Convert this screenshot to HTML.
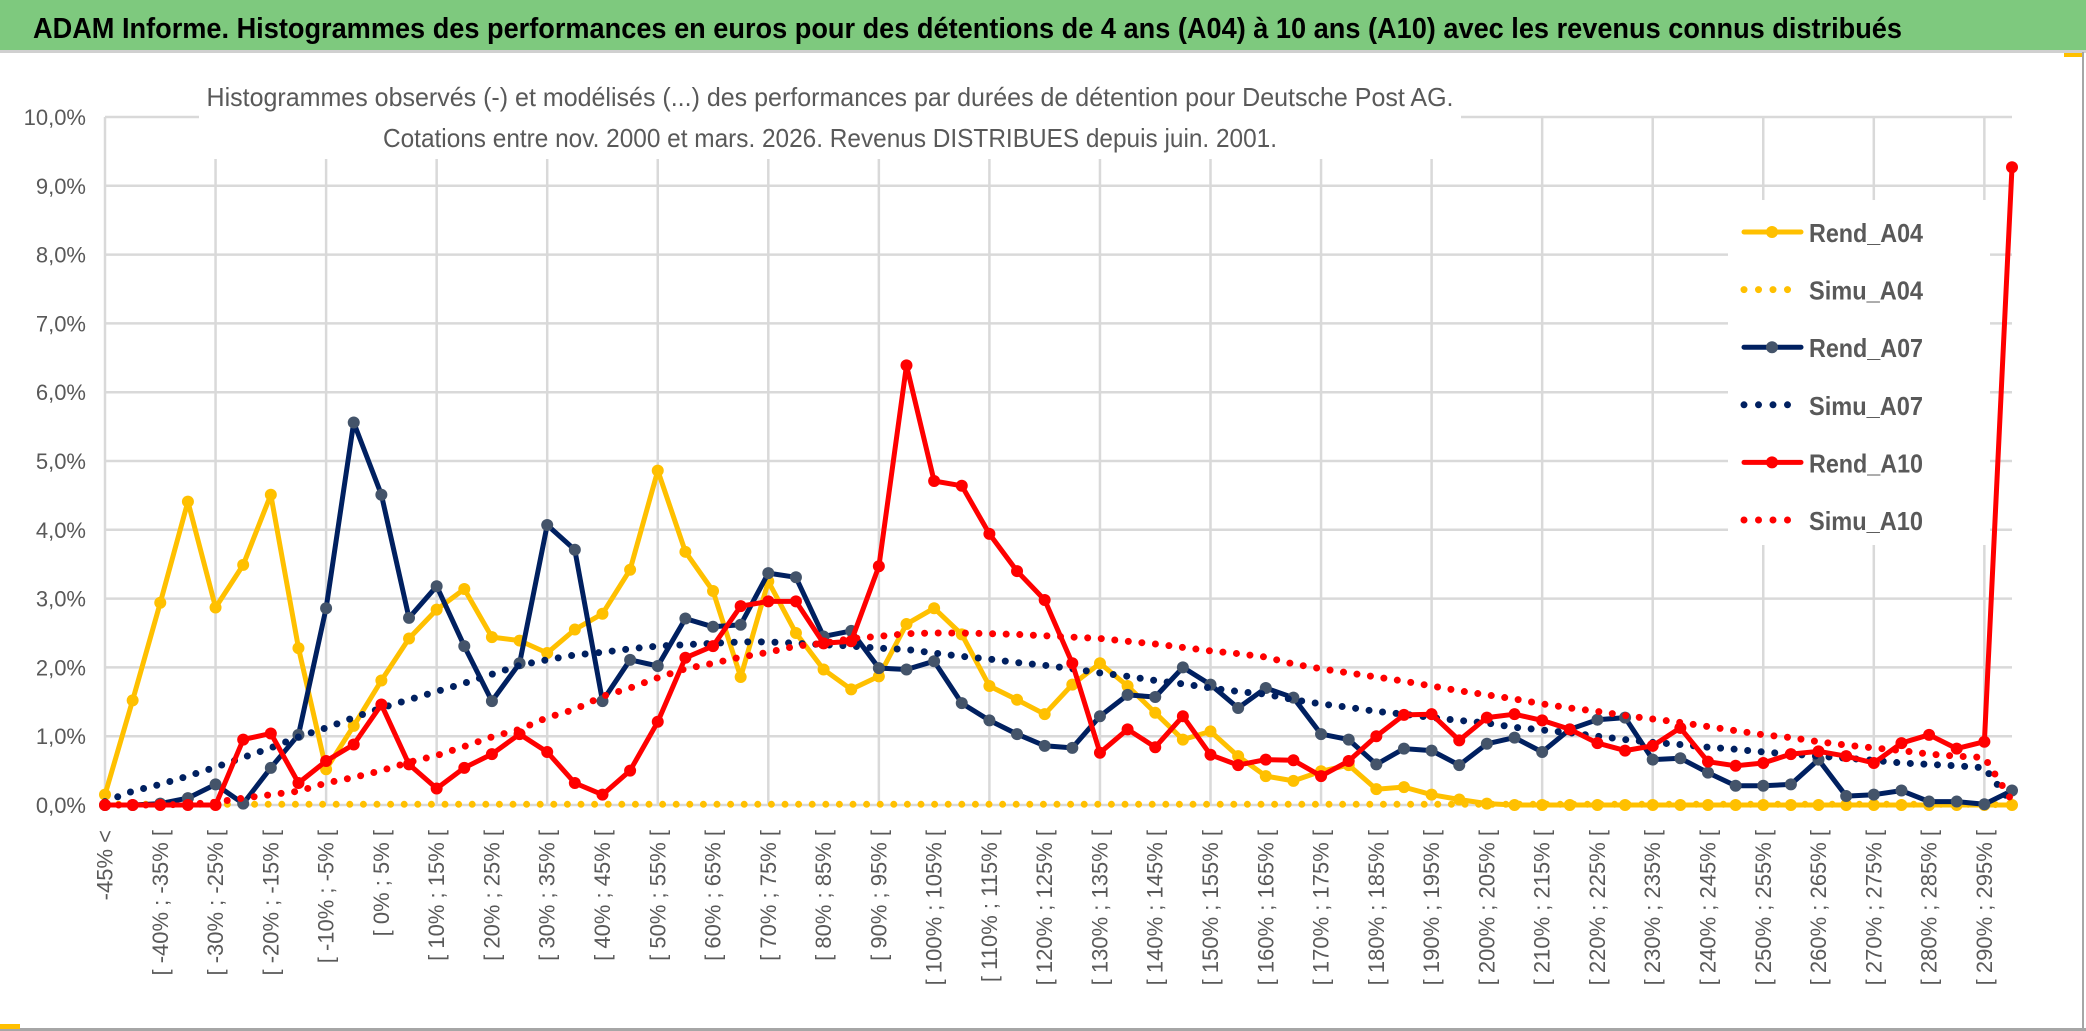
<!DOCTYPE html>
<html><head><meta charset="utf-8"><style>
html,body{margin:0;padding:0;background:#fff;}
svg{display:block;font-family:"Liberation Sans Narrow","Liberation Sans",sans-serif;}
</style></head><body>
<svg id="chart" width="2086" height="1031" viewBox="0 0 2086 1031" xmlns="http://www.w3.org/2000/svg">
<rect x="0" y="0" width="2086" height="1031" fill="#fff"/>
<rect x="0" y="0" width="2086" height="50" fill="#7ec97e"/>
<line x1="0" y1="51.5" x2="2086" y2="51.5" stroke="#d0d0d0" stroke-width="3"/>
<text x="33" y="38" font-size="29" font-weight="bold" fill="#000" textLength="1869" lengthAdjust="spacingAndGlyphs">ADAM Informe. Histogrammes des performances en euros pour des détentions de 4 ans (A04) à 10 ans (A10) avec les revenus connus distribués</text>
<rect x="2082" y="52" width="2" height="979" fill="#a6a6a6"/>
<rect x="0" y="1028" width="2086" height="3" fill="#a6a6a6"/>
<rect x="0" y="1024" width="20" height="5" fill="#ffc000"/>
<rect x="2064" y="53" width="18" height="4" fill="#ffc000"/>
<g id="grid"></g>
<rect x="199" y="60" width="1262" height="99" fill="#fff"/>
<rect x="1728" y="200" width="262" height="345" fill="#fff"/>
<text x="830" y="106" font-size="26" fill="#595959" text-anchor="middle" textLength="1247" lengthAdjust="spacingAndGlyphs">Histogrammes observés (-) et modélisés (...) des performances par durées de détention pour Deutsche Post AG.</text>
<text x="830" y="147" font-size="26" fill="#595959" text-anchor="middle" textLength="894" lengthAdjust="spacingAndGlyphs">Cotations entre nov. 2000 et mars. 2026. Revenus DISTRIBUES depuis juin. 2001.</text>
<g id="yaxis"></g>
<g id="xaxis"></g>
<g id="series"></g>
<g id="legend"></g>
</svg>
<script>
const categories = ["-45% <"];
const catLows = [-45,-40,-35,-30,-25,-20,-15,-10,-5,0,5,10,15,20,25,30,35,40,45,50,55,60,65,70,75,80,85,90,95,100,105,110,115,120,125,130,135,140,145,150,155,160,165,170,175,180,185,190,195,200,205,210,215,220,225,230,235,240,245,250,255,260,265,270,275,280,285,290,295];
const yTicks = [0,1,2,3,4,5,6,7,8,9,10];
const yTickLabels = ["0,0%","1,0%","2,0%","3,0%","4,0%","5,0%","6,0%","7,0%","8,0%","9,0%","10,0%"];
const rendA04 = [0.15,1.52,2.94,4.41,2.87,3.49,4.51,2.28,0.52,1.15,1.81,2.42,2.84,3.14,2.44,2.39,2.21,2.55,2.78,3.42,4.86,3.68,3.11,1.86,3.25,2.5,1.97,1.68,1.87,2.63,2.86,2.48,1.73,1.53,1.32,1.75,2.06,1.73,1.34,0.95,1.07,0.71,0.42,0.35,0.49,0.58,0.23,0.26,0.15,0.08,0.02,0,0,0,0,0,0,0,0,0,0,0,0,0,0,0,0,0,0,0];
const simuA04 = [0.01,0.01,0.01,0.01,0.01,0.01,0.01,0.01,0.01,0.01,0.01,0.01,0.01,0.01,0.01,0.01,0.01,0.01,0.01,0.01,0.01,0.01,0.01,0.01,0.01,0.01,0.01,0.01,0.01,0.01,0.01,0.01,0.01,0.01,0.01,0.01,0.01,0.01,0.01,0.01,0.01,0.01,0.01,0.01,0.01,0.01,0.01,0.01,0.01,0.01,0.01,0.01,0.01,0.01,0.01,0.01,0.01,0.01,0.01,0.01,0.01,0.01,0.01,0.01,0.01,0.01,0.01,0.01,0.01,0.0];
const rendA07 = [0,0,0.02,0.1,0.3,0.02,0.54,1.02,2.86,5.56,4.51,2.72,3.18,2.31,1.51,2.06,4.07,3.71,1.51,2.11,2.02,2.71,2.59,2.62,3.37,3.31,2.45,2.53,1.99,1.97,2.09,1.48,1.23,1.03,0.86,0.83,1.29,1.6,1.57,2.0,1.75,1.41,1.70,1.56,1.03,0.95,0.59,0.82,0.79,0.58,0.89,0.98,0.77,1.1,1.24,1.27,0.66,0.68,0.47,0.28,0.28,0.30,0.66,0.13,0.15,0.21,0.05,0.05,0.01,0.21];
const simuA07 = [0.05,0.2,0.3,0.42,0.55,0.69,0.83,0.99,1.12,1.27,1.41,1.53,1.65,1.77,1.9,2.03,2.11,2.18,2.22,2.27,2.31,2.33,2.35,2.37,2.37,2.35,2.33,2.31,2.28,2.26,2.21,2.16,2.12,2.07,2.03,1.98,1.92,1.87,1.81,1.76,1.70,1.65,1.61,1.53,1.47,1.42,1.36,1.32,1.27,1.23,1.19,1.13,1.09,1.05,1.0,0.95,0.91,0.88,0.84,0.81,0.77,0.74,0.71,0.68,0.65,0.61,0.59,0.57,0.54,0.02];
const rendA10 = [0,0,0,0,0,0.95,1.04,0.32,0.64,0.88,1.46,0.59,0.24,0.54,0.74,1.03,0.77,0.32,0.15,0.5,1.21,2.14,2.31,2.89,2.96,2.96,2.35,2.38,3.47,6.39,4.71,4.64,3.94,3.40,2.98,2.06,0.76,1.10,0.84,1.29,0.73,0.58,0.66,0.65,0.42,0.64,1.0,1.31,1.32,0.94,1.27,1.32,1.23,1.1,0.9,0.79,0.86,1.12,0.63,0.57,0.61,0.74,0.78,0.71,0.61,0.90,1.02,0.82,0.92,9.27];
const simuA10 = [0,0,0,0.01,0.04,0.1,0.15,0.2,0.32,0.4,0.5,0.62,0.72,0.85,0.99,1.1,1.27,1.39,1.58,1.7,1.85,1.98,2.06,2.15,2.22,2.31,2.35,2.42,2.45,2.49,2.5,2.5,2.49,2.48,2.46,2.44,2.42,2.38,2.34,2.29,2.24,2.2,2.15,2.05,1.98,1.92,1.86,1.80,1.73,1.66,1.60,1.54,1.47,1.41,1.36,1.30,1.25,1.20,1.14,1.08,1.02,0.98,0.92,0.87,0.83,0.79,0.74,0.71,0.69,0.06];
const seriesNames = ["Rend_A04","Simu_A04","Rend_A07","Simu_A07","Rend_A10","Simu_A10"];

for (let k = 0; k < catLows.length; k++) categories.push("[ " + catLows[k] + "% ; " + (catLows[k] + 5) + "% [");

const NS = "http://www.w3.org/2000/svg";
const X0 = 105, X1 = 2012, Y0 = 805, PER = 68.8;
const N = categories.length;
function xs(i){ return X0 + i * (X1 - X0) / (N - 1); }
function ys(v){ return Y0 - v * PER; }
function mk(tag, attrs, parent){ const e = document.createElementNS(NS, tag); for (const k in attrs) e.setAttribute(k, attrs[k]); parent.appendChild(e); return e; }

const grid = document.getElementById("grid");
for (let t = 0; t < yTicks.length; t++) {
  const l = mk("line", {x1: X0, x2: X1, y1: ys(yTicks[t]), y2: ys(yTicks[t]), stroke: "#d9d9d9", "stroke-width": 2.5}, grid);
  
  
}
for (let i = 0; i < N; i += 4) {
  const l = mk("line", {x1: xs(i), x2: xs(i), y1: ys(10), y2: Y0, stroke: "#d9d9d9", "stroke-width": 2.5}, grid);
  
  
}

const yaxis = document.getElementById("yaxis");
for (let t = 0; t < yTicks.length; t++) {
  const tx = mk("text", {x: 86, y: ys(yTicks[t]) + 8, "font-size": 22, fill: "#595959", "text-anchor": "end"}, yaxis);
  tx.textContent = yTickLabels[t];
  
  
}
const xaxis = document.getElementById("xaxis");
for (let i = 0; i < N; i += 2) {
  const tx = mk("text", {x: 0, y: 0, "font-size": 22, fill: "#595959", "text-anchor": "end", "dominant-baseline": "central", "font-family": "Liberation Sans, sans-serif", transform: "translate(" + xs(i) + ",830) rotate(-90)"}, xaxis);
  tx.textContent = categories[i];
  
  
}

const seriesG = document.getElementById("series");
function solid(vals, color, mcolor, name){
  const g = mk("g", {}, seriesG);
  
  
  let d = "";
  vals.forEach((v, i) => { d += (i ? "L" : "M") + xs(i).toFixed(1) + " " + ys(v).toFixed(1); });
  const p = mk("path", {d: d, fill: "none", stroke: color, "stroke-width": 5, "stroke-linejoin": "round"}, g);
  
  
  vals.forEach((v, i) => {
    const c = mk("circle", {cx: xs(i), cy: ys(v), r: 6, fill: mcolor}, g);
    
    
  });
}
function dotted(vals, color, name){
  let d = "";
  vals.forEach((v, i) => { d += (i ? "L" : "M") + xs(i).toFixed(1) + " " + ys(v).toFixed(1); });
  const p = mk("path", {d: d, fill: "none", stroke: color, "stroke-width": 7, "stroke-linecap": "round", "stroke-dasharray": "0 13.6"}, seriesG);
  
  
}
solid(rendA04, "#ffc000", "#ffc000", "rend-a04");
dotted(simuA04, "#ffc000", "simu-a04");
solid(rendA07, "#002060", "#44546a", "rend-a07");
dotted(simuA07, "#002060", "simu-a07");
solid(rendA10, "#ff0000", "#ff0000", "rend-a10");
dotted(simuA10, "#ff0000", "simu-a10");

const legend = document.getElementById("legend");
const legColors = ["#ffc000","#ffc000","#002060","#002060","#ff0000","#ff0000"];
const legMarker = ["#ffc000","#ffc000","#44546a","#44546a","#ff0000","#ff0000"];
for (let k = 0; k < seriesNames.length; k++) {
  const y = 232 + k * 57.6;
  const g = mk("g", {}, legend);
  
  
  if (k % 2 === 0) {
    mk("line", {x1: 1744, x2: 1801, y1: y, y2: y, stroke: legColors[k], "stroke-width": 5, "stroke-linecap": "round"}, g);
    mk("circle", {cx: 1772, cy: y, r: 6, fill: legMarker[k]}, g);
  } else {
    mk("line", {x1: 1744, x2: 1801, y1: y, y2: y, stroke: legColors[k], "stroke-width": 7, "stroke-linecap": "round", "stroke-dasharray": "0 14.5"}, g);
  }
  const t = mk("text", {x: 1809, y: y + 10, "font-size": 26, "font-weight": "bold", fill: "#595959", textLength: 114, lengthAdjust: "spacingAndGlyphs"}, g);
  t.textContent = seriesNames[k];
  
  
}
</script>
</body></html>
